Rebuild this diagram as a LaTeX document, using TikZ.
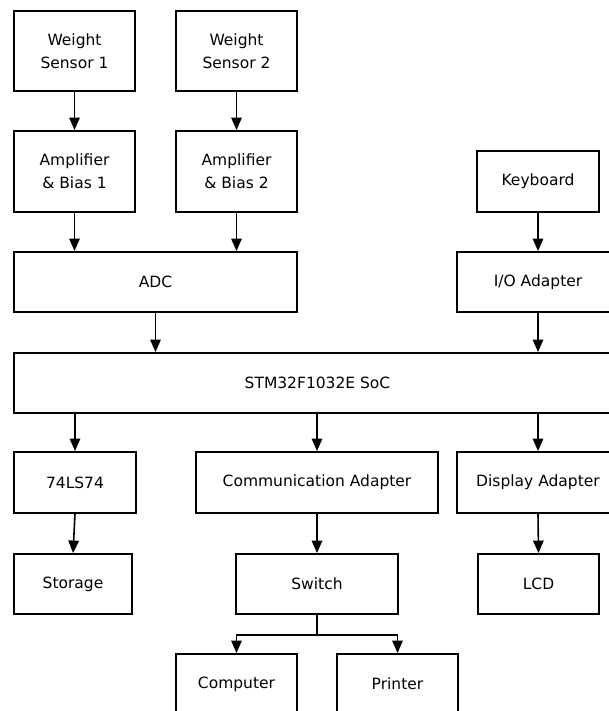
\documentclass[tikz,border=0pt]{standalone}
\usepackage{fontspec}
\setmainfont{DejaVu Sans}
\usetikzlibrary{arrows.meta}
\newcommand\mybox[6]{%
  \node[blk, minimum width={#4pt-#2pt}, minimum height={#5pt-#3pt}] (#1) at ({(#2+#4)/2},{(#3+#5)/2}) {#6};}
\begin{document}
\begin{tikzpicture}[x=1pt,y=-1pt,
  blk/.style={draw, line width=1.9pt, inner sep=0pt, align=center,
    font=\fontsize{15.5}{22.7}\selectfont},
  arr/.style={line width=1.6pt, -{Triangle[width=10.5pt,length=12.5pt]}}]
\useasboundingbox (0,0) rectangle (609,711);
\fill[white] (0,0) rectangle (609,711);
\clip (0,0) rectangle (609,711);
\mybox{ws1}{14}{11}{135}{91}{Weight\\Sensor 1}
\mybox{ws2}{176}{11}{297}{91}{Weight\\Sensor 2}
\mybox{amp1}{14}{131}{135}{212}{Amplifier\\\& Bias 1}
\mybox{amp2}{176}{131}{297}{212}{Amplifier\\\& Bias 2}
\mybox{kb}{477}{151}{599}{212}{Keyboard}
\mybox{adc}{14}{252}{297}{312}{ADC}
\mybox{io}{457}{252}{619}{312}{I/O Adapter}
\mybox{soc}{14}{353}{621}{413}{STM32F1032E SoC}
\mybox{ls}{14}{452}{136}{513}{74LS74}
\mybox{comm}{196}{452}{438}{513}{Communication Adapter}
\mybox{disp}{457}{452}{619}{513}{Display Adapter}
\mybox{sto}{14}{554}{132}{614}{Storage}
\mybox{sw}{236}{554}{398}{614}{Switch}
\mybox{lcd}{478}{554}{599}{614}{LCD}
\mybox{pc}{176}{654}{297}{714}{Computer}
\mybox{pr}{337}{654}{458}{714}{Printer}
\draw[arr] (ws1.south) -- (amp1.north);
\draw[arr] (ws2.south) -- (amp2.north);
\draw[arr] (amp1.south) -- (amp1.south |- adc.north);
\draw[arr] (amp2.south) -- (amp2.south |- adc.north);
\draw[arr] (kb.south) -- (io.north);
\draw[arr] (adc.south) -- (adc.south |- soc.north);
\draw[arr] (io.south) -- (io.south |- soc.north);
\draw[arr] (soc.south -| ls.north) -- (ls.north);
\draw[arr] (soc.south -| comm.north) -- (comm.north);
\draw[arr] (soc.south -| disp.north) -- (disp.north);
\draw[arr] (ls.south) -- (sto.north);
\draw[arr] (comm.south) -- (sw.north);
\draw[arr] (disp.south) -- (lcd.north);
\path (sw.south) ++(0,20) coordinate (br);
\draw[arr] (sw.south) -- (br) -| (pc.north);
\draw[arr] (br) -| (pr.north);
\end{tikzpicture}
\end{document}
